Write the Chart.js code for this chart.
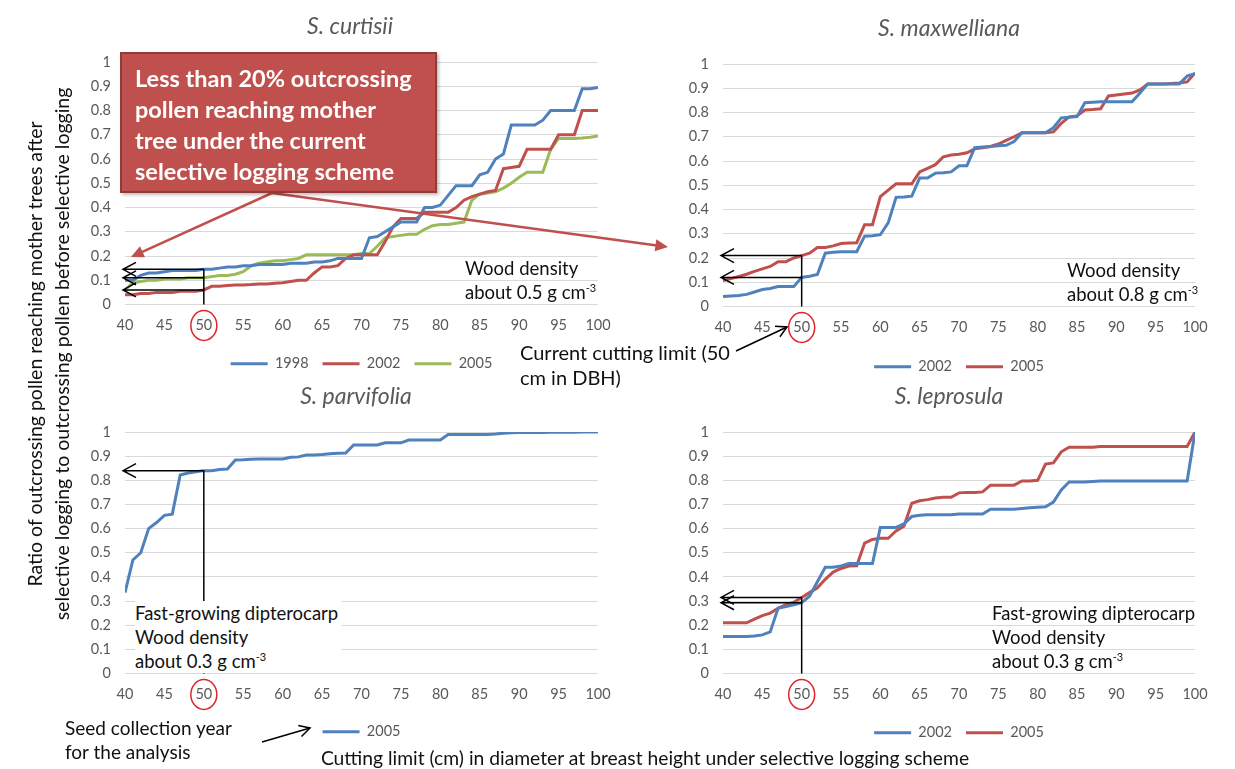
<!DOCTYPE html>
<html>
<head>
<meta charset="utf-8">
<script src="https://cdn.jsdelivr.net/npm/chart.js@4.4.1/dist/chart.umd.min.js"></script>
<style>
  body { margin: 0; background: #fff; font-family: Lato, 'Open Sans', sans-serif; }
  #page { position: relative; width: 1235px; height: 769px; overflow: hidden; background: #fff; }
  canvas.panel { position: absolute; z-index: 1; }
  #overlay { position: absolute; left: 0; top: 0; pointer-events: none; z-index: 2; }
  .txt { position: absolute; color: #111; font-size: 18.5px; line-height: 24px; white-space: nowrap; z-index: 3; }
  .txt sup { font-size: 11px; vertical-align: 7px; line-height: 0; }
  .title { position: absolute; font-style: italic; font-size: 23px; line-height: 28px; color: #595959; z-index: 3; transform: translateX(-50%); white-space: nowrap; }
  .callout { position: absolute; left: 120px; top: 52px; width: 317px; height: 141px; box-sizing: border-box;
    background: #c0504d; border: 2px solid #8e3b39; color: #fff; font-weight: bold; font-size: 23.5px;
    line-height: 31px; padding: 9px 0 0 13px; z-index: 3; white-space: nowrap; box-shadow: 2px 2px 3px rgba(0,0,0,0.25); }
  .ytitle { position: absolute; left: -252px; top: 327px; width: 600px; height: 54px; text-align: center;
    font-size: 19.5px; line-height: 27px; color: #111; transform: rotate(-90deg); z-index: 3; white-space: nowrap; }
  .white { background: #fff; padding-right: 4px; }
</style>
</head>
<body>
<div id="page">
  <canvas id="c1" class="panel" width="610" height="335" style="left:55px;top:50px"></canvas>
  <canvas id="c2" class="panel" width="585" height="335" style="left:650px;top:50px"></canvas>
  <canvas id="c3" class="panel" width="594" height="335" style="left:55px;top:420px"></canvas>
  <canvas id="c4" class="panel" width="585" height="335" style="left:650px;top:420px"></canvas>
  <canvas id="overlay" width="1235" height="769"></canvas>

  <div class="title" style="left:350px;top:11px">S. curtisii</div>
  <div class="title" style="left:949px;top:13px">S. maxwelliana</div>
  <div class="title" style="left:356px;top:381px">S. parvifolia</div>
  <div class="title" style="left:949px;top:381px">S. leprosula</div>

  <div class="callout">Less than 20% outcrossing<br>pollen reaching mother<br>tree under the current<br>selective logging scheme</div>

  <div class="txt" style="left:465px;top:256px">Wood density<br>about 0.5 g cm<sup>-3</sup></div>
  <div class="txt" style="left:1067px;top:258px">Wood density<br>about 0.8 g cm<sup>-3</sup></div>
  <div class="txt white" style="left:135px;top:601px">Fast-growing dipterocarp<br>Wood density<br>about 0.3 g cm<sup>-3</sup></div>
  <div class="txt" style="left:992px;top:601px">Fast-growing dipterocarp<br>Wood density<br>about 0.3 g cm<sup>-3</sup></div>

  <div class="txt" style="left:520px;top:340px;font-size:20px;line-height:25px">Current cutting limit (50<br>cm in DBH)</div>
  <div class="txt" style="left:65px;top:716px;font-size:19px">Seed collection year<br>for the analysis</div>

  <div class="ytitle">Ratio of outcrossing pollen reaching mother trees after<br>selective logging to outcrossing pollen before selective logging</div>
  <div class="txt" style="left:645px;top:746px;font-size:19.3px;transform:translateX(-50%)">Cutting limit (cm) in diameter at breast height under selective logging scheme</div>
</div>

<script>
// cutting limit (DBH, cm)
const dbh = [40,41,42,43,44,45,46,47,48,49,50,51,52,53,54,55,56,57,58,59,60,61,62,63,64,65,66,67,68,69,70,
  71,72,73,74,75,76,77,78,79,80,81,82,83,84,85,86,87,88,89,90,91,92,93,94,95,96,97,98,99,100];
const yTicks = [0, 0.1, 0.2, 0.3, 0.4, 0.5, 0.6, 0.7, 0.8, 0.9, 1];

// S. curtisii
const curtisii1998 = [0.10,0.10,0.12,0.13,0.13,0.135,0.14,0.14,0.14,0.14, 0.145,0.145,0.15,0.155,0.155,0.16,0.16,0.165,0.165,0.165,
  0.165,0.17,0.17,0.17,0.175,0.175,0.18,0.19,0.19,0.19, 0.19,0.275,0.28,0.30,0.32,0.34,0.34,0.34,0.40,0.40,
  0.41,0.45,0.49,0.49,0.49,0.535,0.545,0.60,0.62,0.74, 0.74,0.74,0.74,0.76,0.80,0.80,0.80,0.80,0.89,0.89, 0.895];
const curtisii2002 = [0.04,0.04,0.045,0.045,0.05,0.05,0.05,0.055,0.055,0.055, 0.06,0.075,0.075,0.078,0.08,0.08,0.082,0.085,0.085,0.088,
  0.09,0.095,0.10,0.10,0.13,0.155,0.155,0.16,0.19,0.205, 0.205,0.205,0.205,0.26,0.32,0.355,0.355,0.355,0.38,0.38,
  0.38,0.38,0.40,0.43,0.445,0.455,0.465,0.47,0.56,0.565, 0.57,0.64,0.64,0.64,0.64,0.70,0.70,0.70,0.80,0.80, 0.80];
const curtisii2005 = [0.06,0.09,0.095,0.10,0.10,0.105,0.105,0.105,0.11,0.11, 0.11,0.115,0.12,0.12,0.125,0.135,0.16,0.17,0.175,0.18,
  0.18,0.185,0.19,0.205,0.205,0.205,0.205,0.205,0.205,0.205, 0.21,0.21,0.24,0.275,0.28,0.285,0.29,0.29,0.31,0.325,
  0.33,0.33,0.335,0.34,0.43,0.455,0.46,0.465,0.48,0.50, 0.525,0.545,0.545,0.545,0.64,0.685,0.685,0.685,0.687,0.69, 0.695];

// S. maxwelliana
const maxw2002 = [0.041,0.043,0.045,0.05,0.06,0.07,0.074,0.082,0.082,0.082, 0.12,0.125,0.132,0.22,0.224,0.226,0.226,0.226,0.29,0.292,
  0.296,0.345,0.45,0.452,0.455,0.53,0.53,0.55,0.552,0.555, 0.58,0.58,0.655,0.658,0.66,0.663,0.665,0.68,0.716,0.716,
  0.716,0.716,0.737,0.778,0.78,0.783,0.84,0.842,0.844,0.844, 0.844,0.844,0.844,0.88,0.918,0.918,0.918,0.918,0.918,0.95, 0.96];
const maxw2005 = [0.107,0.115,0.124,0.133,0.145,0.155,0.165,0.185,0.185,0.20, 0.21,0.22,0.243,0.243,0.25,0.26,0.262,0.263,0.337,0.337,
  0.453,0.48,0.506,0.506,0.506,0.555,0.57,0.585,0.617,0.625, 0.628,0.634,0.65,0.655,0.66,0.67,0.685,0.70,0.716,0.716,
  0.716,0.716,0.72,0.755,0.782,0.786,0.81,0.812,0.815,0.868, 0.872,0.876,0.88,0.893,0.918,0.918,0.918,0.92,0.922,0.926, 0.963];

// S. parvifolia
const parv2005 = [0.335,0.47,0.50,0.60,0.625,0.655,0.66,0.822,0.83,0.835, 0.84,0.84,0.845,0.847,0.884,0.885,0.887,0.888,0.888,0.888,
  0.888,0.895,0.897,0.905,0.905,0.907,0.91,0.912,0.913,0.946, 0.946,0.946,0.946,0.955,0.955,0.955,0.967,0.967,0.967,0.967,
  0.967,0.99,0.99,0.99,0.99,0.99,0.99,0.992,0.995,0.997, 0.998,0.998,0.998,0.998,0.999,0.999,0.999,0.999,1.0,1.0, 1.0];

// S. leprosula
const lep2002 = [0.153,0.153,0.153,0.153,0.155,0.16,0.172,0.27,0.277,0.285, 0.293,0.32,0.38,0.44,0.44,0.445,0.455,0.455,0.455,0.455,
  0.605,0.605,0.605,0.62,0.65,0.655,0.657,0.657,0.657,0.657, 0.66,0.66,0.66,0.66,0.68,0.68,0.68,0.68,0.683,0.686,
  0.688,0.69,0.71,0.76,0.793,0.793,0.793,0.795,0.797,0.797, 0.797,0.797,0.797,0.797,0.797,0.797,0.797,0.797,0.797,0.797, 1.0];
const lep2005 = [0.21,0.21,0.21,0.21,0.225,0.24,0.25,0.27,0.285,0.295, 0.315,0.335,0.355,0.39,0.42,0.435,0.445,0.446,0.54,0.555,
  0.56,0.56,0.59,0.61,0.705,0.715,0.72,0.727,0.73,0.73, 0.748,0.75,0.75,0.752,0.78,0.78,0.78,0.78,0.797,0.797,
  0.80,0.867,0.872,0.918,0.937,0.937,0.937,0.937,0.94,0.94, 0.94,0.94,0.94,0.94,0.94,0.94,0.94,0.94,0.94,0.94, 1.0];

const CUT = 50;
const BLUE = '#4f81bd', RED = '#c0504d', GREEN = '#9bbb59';

Chart.defaults.font.family = 'Lato, "Open Sans", sans-serif';

function atCut(arr) { return arr[dbh.indexOf(CUT)]; }

// black guide arrows + red circle around the "50" tick
const guides = {
  id: 'guides',
  afterDraw(chart, args, opts) {
    const { ctx, chartArea, scales: { x, y } } = chart;
    const px = x.getPixelForValue(CUT);
    const x0 = x.getPixelForValue(dbh[0]) - 2;
    ctx.save();
    ctx.strokeStyle = '#000';
    ctx.lineWidth = 1.5;
    const top = Math.max(...opts.levels);
    ctx.beginPath();
    ctx.moveTo(px, y.getPixelForValue(0));
    ctx.lineTo(px, y.getPixelForValue(top));
    ctx.stroke();
    opts.levels.forEach(v => {
      const py = y.getPixelForValue(v);
      ctx.beginPath();
      ctx.moveTo(px, py);
      ctx.lineTo(x0, py);
      ctx.moveTo(x0 + 13, py - 7);
      ctx.lineTo(x0, py);
      ctx.lineTo(x0 + 13, py + 7);
      ctx.stroke();
    });
    ctx.strokeStyle = '#e0262b';
    ctx.lineWidth = 1.5;
    ctx.beginPath();
    ctx.ellipse(px, chartArea.bottom + 21, 13, 15, 0, 0, Math.PI * 2);
    ctx.stroke();
    ctx.restore();
  }
};

function makePanel(id, series, g, levels) {
  const datasets = series.map(s => ({
    label: s.label, data: s.data, borderColor: s.color, backgroundColor: s.color,
    borderWidth: 3, pointRadius: 0, tension: 0, fill: false
  }));
  return new Chart(document.getElementById(id), {
    type: 'line',
    data: { labels: dbh, datasets },
    plugins: [guides],
    options: {
      responsive: false,
      animation: false,
      events: [],
      layout: { padding: { top: g.top, right: g.right, bottom: g.bottom, left: 0 } },
      plugins: {
        guides: { levels },
        tooltip: { enabled: false },
        legend: {
          position: 'bottom',
          fullSize: false,
          labels: {
            usePointStyle: true, pointStyle: 'line', pointStyleWidth: 37,
            padding: 14, color: '#595959', font: { size: 14.5 }
          }
        }
      },
      scales: {
        x: {
          type: 'linear', min: 40, max: 100,
          grid: { display: false, drawTicks: false },
          border: { display: false },
          ticks: { stepSize: 5, color: '#595959', font: { size: 14.5 }, padding: 12, maxRotation: 0 },
          afterFit(s) { s.height = g.xh; s.paddingLeft = 0; s.paddingRight = 0; }
        },
        y: {
          min: 0, max: 1,
          grid: { color: '#d9d9d9', lineWidth: 1, drawTicks: false },
          border: { display: false },
          ticks: { stepSize: 0.1, color: '#595959', font: { size: 14.5 }, padding: 14,
            callback: v => yTicks.includes(Math.round(v * 10) / 10) ? String(Math.round(v * 10) / 10) : '' },
          afterFit(s) { s.width = g.yw; s.paddingTop = 0; s.paddingBottom = 0; }
        }
      }
    }
  });
}

makePanel('c1', [
  { label: '1998', data: curtisii1998, color: BLUE },
  { label: '2002', data: curtisii2002, color: RED },
  { label: '2005', data: curtisii2005, color: GREEN }
], { top: 12, right: 67, bottom: 4, xh: 38, yw: 70 },
  [atCut(curtisii1998), atCut(curtisii2005), atCut(curtisii2002)]);

makePanel('c2', [
  { label: '2002', data: maxw2002, color: BLUE },
  { label: '2005', data: maxw2005, color: RED }
], { top: 14, right: 40, bottom: 1, xh: 39, yw: 73 },
  [atCut(maxw2002), atCut(maxw2005)]);

makePanel('c3', [
  { label: '2005', data: parv2005, color: BLUE }
], { top: 12, right: 51, bottom: 6, xh: 37, yw: 70 },
  [atCut(parv2005)]);

makePanel('c4', [
  { label: '2002', data: lep2002, color: BLUE },
  { label: '2005', data: lep2005, color: RED }
], { top: 12, right: 40, bottom: 5, xh: 38, yw: 73 },
  [atCut(lep2002), atCut(lep2005)]);

// callout and label arrows
const oc = document.getElementById('overlay').getContext('2d');
function arrow(x1, y1, x2, y2, color, w, filled) {
  const a = Math.atan2(y2 - y1, x2 - x1);
  const len = filled ? 14 : 12, spread = filled ? 0.45 : 0.5;
  oc.save();
  oc.strokeStyle = color; oc.fillStyle = color; oc.lineWidth = w;
  oc.beginPath();
  oc.moveTo(x1, y1);
  oc.lineTo(filled ? x2 - Math.cos(a) * len * 0.8 : x2, filled ? y2 - Math.sin(a) * len * 0.8 : y2);
  oc.stroke();
  oc.beginPath();
  oc.moveTo(x2 - len * Math.cos(a - spread), y2 - len * Math.sin(a - spread));
  oc.lineTo(x2, y2);
  oc.lineTo(x2 - len * Math.cos(a + spread), y2 - len * Math.sin(a + spread));
  if (filled) { oc.closePath(); oc.fill(); } else { oc.stroke(); }
  oc.restore();
}
arrow(272, 193, 131, 257, RED, 2.5, true);
arrow(272, 193, 668, 247, RED, 2.5, true);
arrow(736, 351, 787, 327, '#000', 1.5, false);
arrow(262, 742, 310, 728, '#000', 1.5, false);
</script>
</body>
</html>
